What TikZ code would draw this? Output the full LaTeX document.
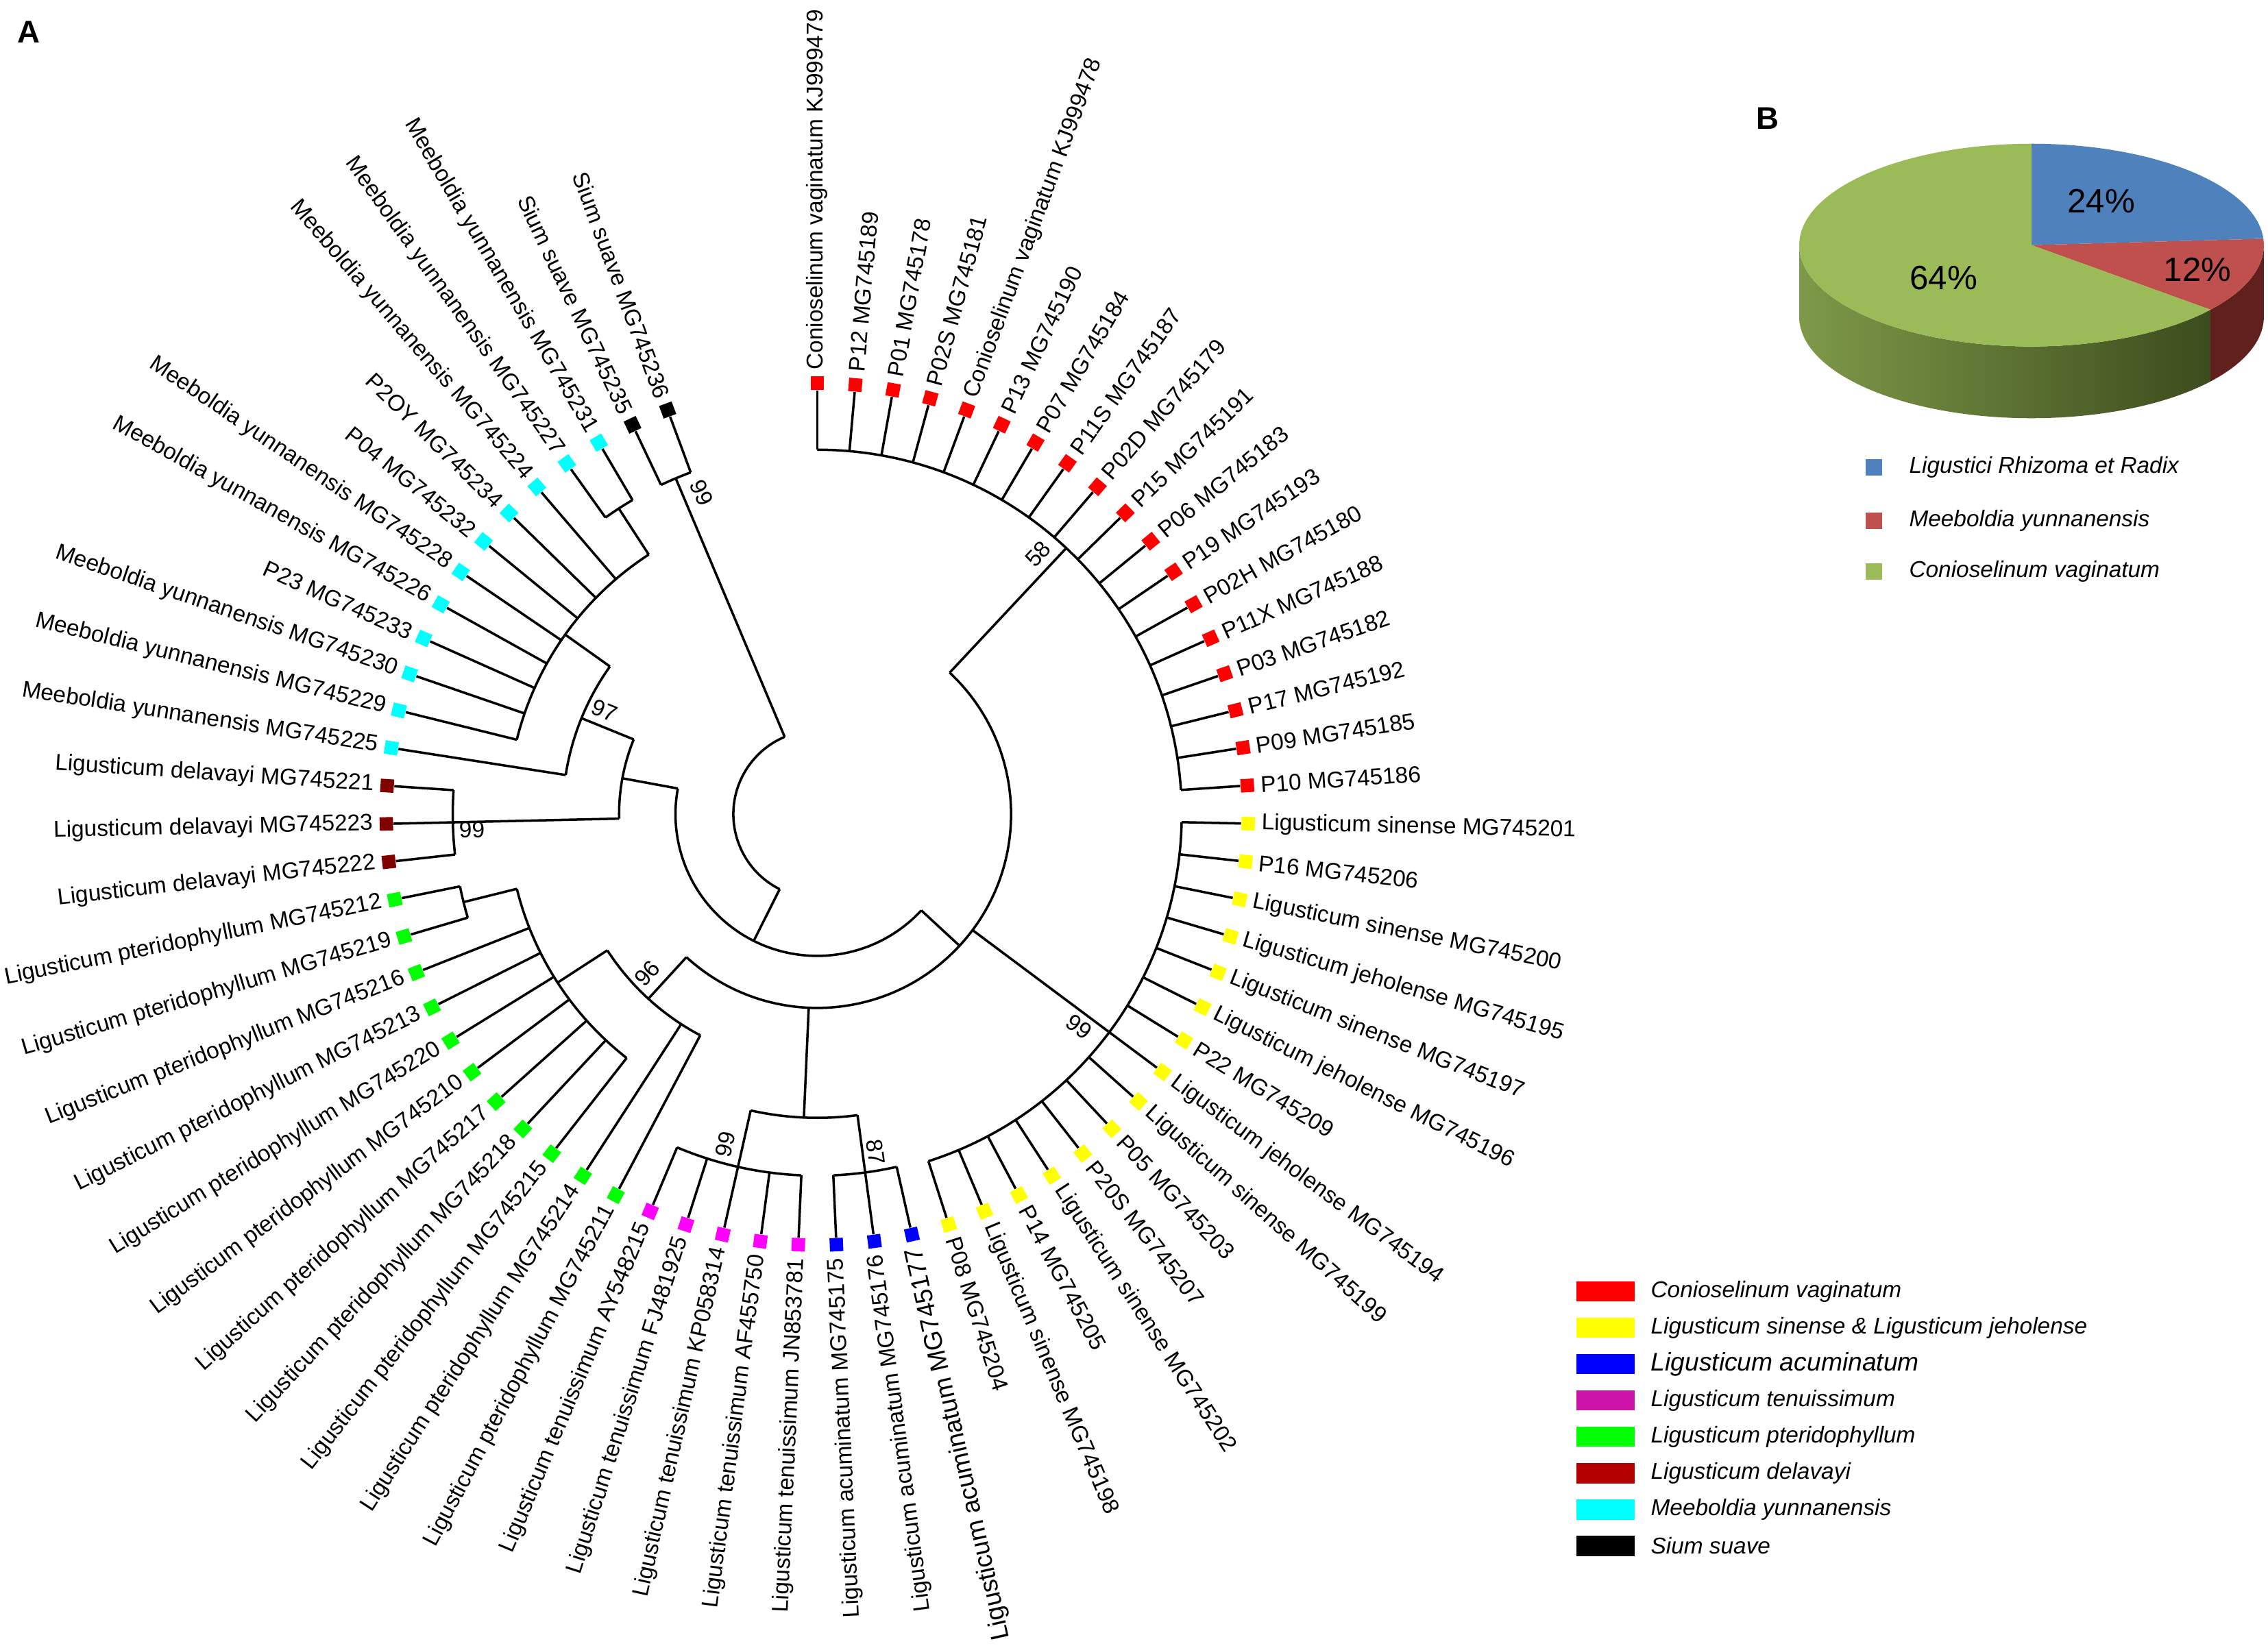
\documentclass[tikz,border=0pt]{standalone}
\usepackage{fontspec}
\setmainfont{Liberation Sans}

\definecolor{cvred}{RGB}{255,0,0}
\definecolor{lsyellow}{RGB}{255,255,0}
\definecolor{lablue}{RGB}{0,0,255}
\definecolor{ltmagenta}{RGB}{255,0,255}
\definecolor{lpgreen}{RGB}{0,255,0}
\definecolor{ldmaroon}{RGB}{128,0,0}
\definecolor{mycyan}{RGB}{0,255,255}
\definecolor{ltkey}{RGB}{204,20,170}
\definecolor{ldkey}{RGB}{180,0,0}
\definecolor{pieblue}{RGB}{79,129,189}
\definecolor{piered}{RGB}{192,80,77}
\definecolor{piegreen}{RGB}{155,187,89}
\definecolor{sideleft}{RGB}{126,153,72}
\definecolor{sideright}{RGB}{60,76,29}
\definecolor{sidered}{RGB}{95,32,30}

% clade: name, first leaf, last leaf, radius, parent radius
\newcommand{\clade}[5]{%
  \pgfmathsetmacro\cladea{90-(#2-1)*5.07}%
  \pgfmathsetmacro\cladeb{90-(#3-1)*5.07}%
  \pgfmathsetmacro\cladem{(\cladea+\cladeb)/2}%
  \draw[branchline] (\cladea:#4) arc[start angle=\cladea, end angle=\cladeb, radius=#4];
  \coordinate (#1) at (\cladem:#4);
  \coordinate (#1-base) at (\cladem:#5);
  \draw[branchline] (#1) -- (#1-base);
}

\begin{document}
\begin{tikzpicture}[x=0.21103mm,y=0.21103mm,
  branchline/.style={line width=1pt},
  tipbox/.style={rectangle,minimum size=1.95mm,inner sep=0pt},
  leaf/.style={font=\fontsize{9.5}{11}\selectfont,inner sep=0pt},
  boot/.style={font=\fontsize{9.5}{11}\selectfont,inner sep=0pt},
  pct/.style={font=\fontsize{14}{16}\selectfont,inner sep=0pt},
  keybox/.style={rectangle,minimum width=8.44mm,minimum height=2.95mm,inner sep=0pt},
  keytext/.style={anchor=west,inner sep=0pt,font=\itshape\fontsize{9.5}{11}\selectfont},
  panel/.style={font=\bfseries\fontsize{13}{15}\selectfont}]
  \useasboundingbox (0,0) rectangle (1568,1138);
  \node[panel] (panelA) at (20,1116) {A};
  \node[panel] (panelB) at (1222,1056) {B};

  % circular tree
  \begin{scope}[shift={(565,575)}]
  \foreach \lab/\col/\rb [count=\i] in {
    {Conioselinum vaginatum KJ999479}/cvred/252, {P12 MG745189}/cvred/252,
    {P01 MG745178}/cvred/252, {P02S MG745181}/cvred/252,
    {Conioselinum vaginatum KJ999478}/cvred/252, {P13 MG745190}/cvred/252,
    {P07 MG745184}/cvred/252, {P11S MG745187}/cvred/252,
    {P02D MG745179}/cvred/252, {P15 MG745191}/cvred/252,
    {P06 MG745183}/cvred/252, {P19 MG745193}/cvred/252,
    {P02H MG745180}/cvred/252, {P11X MG745188}/cvred/252,
    {P03 MG745182}/cvred/252, {P17 MG745192}/cvred/252,
    {P09 MG745185}/cvred/252, {P10 MG745186}/cvred/252,
    {Ligusticum sinense MG745201}/lsyellow/252, {P16 MG745206}/lsyellow/252,
    {Ligusticum sinense MG745200}/lsyellow/252, {Ligusticum jeholense MG745195}/lsyellow/252,
    {Ligusticum sinense MG745197}/lsyellow/252, {Ligusticum jeholense MG745196}/lsyellow/252,
    {P22 MG745209}/lsyellow/252, {Ligusticum jeholense MG745194}/lsyellow/252,
    {Ligusticum sinense MG745199}/lsyellow/252, {P05 MG745203}/lsyellow/252,
    {P20S MG745207}/lsyellow/252, {Ligusticum sinense MG745202}/lsyellow/252,
    {P14 MG745205}/lsyellow/252, {Ligusticum sinense MG745198}/lsyellow/252,
    {P08 MG745204}/lsyellow/252,
    {\fontsize{10.6}{12}\selectfont Ligusticum acuminatum MG745177}/lablue/250,
    {Ligusticum acuminatum MG745176}/lablue/250,
    {Ligusticum acuminatum MG745175}/lablue/250,
    {Ligusticum tenuissimum JN853781}/ltmagenta/250, {Ligusticum tenuissimum AF455750}/ltmagenta/250,
    {Ligusticum tenuissimum KP058314}/ltmagenta/250, {Ligusticum tenuissimum FJ481925}/ltmagenta/250,
    {Ligusticum tenuissimum AY548215}/ltmagenta/250,
    {Ligusticum pteridophyllum MG745211}/lpgreen/173, {Ligusticum pteridophyllum MG745214}/lpgreen/173,
    {Ligusticum pteridophyllum MG745215}/lpgreen/214, {Ligusticum pteridophyllum MG745218}/lpgreen/214,
    {Ligusticum pteridophyllum MG745217}/lpgreen/214, {Ligusticum pteridophyllum MG745210}/lpgreen/214,
    {Ligusticum pteridophyllum MG745220}/lpgreen/214, {Ligusticum pteridophyllum MG745213}/lpgreen/214,
    {Ligusticum pteridophyllum MG745216}/lpgreen/214, {Ligusticum pteridophyllum MG745219}/lpgreen/252,
    {Ligusticum pteridophyllum MG745212}/lpgreen/252,
    {Ligusticum delavayi MG745222}/ldmaroon/252, {Ligusticum delavayi MG745223}/ldmaroon/252,
    {Ligusticum delavayi MG745221}/ldmaroon/252,
    {Meeboldia yunnanensis MG745225}/mycyan/176, {Meeboldia yunnanensis MG745229}/mycyan/214,
    {Meeboldia yunnanensis MG745230}/mycyan/214, {P23 MG745233}/mycyan/214,
    {Meeboldia yunnanensis MG745226}/mycyan/214, {Meeboldia yunnanensis MG745228}/mycyan/214,
    {P04 MG745232}/mycyan/214, {P2OY MG745234}/mycyan/214,
    {Meeboldia yunnanensis MG745224}/mycyan/214, {Meeboldia yunnanensis MG745227}/mycyan/252,
    {Meeboldia yunnanensis MG745231}/mycyan/252,
    {Sium suave MG745235}/black/252, {Sium suave MG745236}/black/252}
  {
    \pgfmathsetmacro\ta{90-(\i-1)*5.07}
    \pgfmathtruncatemacro\rside{\ta>-75}
    \node[tipbox,fill=\col,rotate=\ta] (tip\i) at (\ta:298) {};
    \draw[branchline] (\ta:\rb) -- (tip\i);
    \ifnum\rside=1
      \node[leaf,anchor=west,rotate=\ta] (lab\i) at (\ta:307) {\lab};
    \else
      \node[leaf,anchor=east,rotate=\ta+180] (lab\i) at (\ta:307) {\lab};
    \fi
  }

  % clades
  \clade{cRed}{1}{18}{252}{134}
  \clade{cYel}{19}{33}{252}{134}
  \clade{cAcu}{34}{36}{250}{210}
  \clade{cTen}{37}{41}{250}{210}
  \clade{cTA}{35}{39}{210}{134}
  \clade{cGa}{51}{52}{252}{214}
  \clade{cGb}{44}{51.5}{214}{173}
  \clade{cGc}{42}{47.75}{173}{134}
  \clade{cR}{9.5}{44.875}{134}{98}
  \clade{cDel}{53}{55}{252}{137}
  \clade{cMa}{65}{66}{252}{214}
  \clade{cMb}{57}{65.5}{214}{176}
  \clade{cN}{56}{61.25}{176}{137}
  \clade{cP}{54}{58.625}{137}{98}
  \clade{cQ}{27.1875}{56.3125}{98}{58}
  \clade{cSium}{67}{68}{252}{58}
  \draw[branchline] (-116.6:58) arc[start angle=-116.6, end angle=-247.16, radius=58];

  % bootstrap values
  \node[boot,rotate=-67.2] (bsSium) at (109.8:236) {99};
  \node[boot,rotate=46.9] (bsRed) at (49.7:236) {58};
  \node[boot,rotate=-22.2] (bsN) at (154:163.5) {97};
  \node[boot,rotate=1.3] (bsDel) at (182.6:239) {99};
  \node[boot,rotate=47.5] (bsGc) at (223.1:161) {96};
  \node[boot,rotate=77.3] (bsTen) at (254.5:237) {99};
  \node[boot,rotate=-82.4] (bsAcu) at (-80.2:237) {87};
  \node[boot,rotate=-36.8] (bsYel) at (-39.1:233.4) {99};
  \end{scope}

  % pie chart
  \begin{scope}[shift={(1404.5,968.5)}]
  \shade[left color=sideleft,right color=sideright]
    (180:160.6 and 70.1) arc[start angle=180,end angle=320.4,x radius=160.6,y radius=70.1]
    -- ++(0,-49.6) arc[start angle=320.4,end angle=180,x radius=160.6,y radius=70.1] -- cycle;
  \fill[sidered]
    (320.4:160.6 and 70.1) arc[start angle=320.4,end angle=360,x radius=160.6,y radius=70.1]
    -- ++(0,-49.6) arc[start angle=360,end angle=320.4,x radius=160.6,y radius=70.1] -- cycle;
  \fill[pieblue] (0,0) -- (90:160.6 and 70.1) arc[start angle=90,end angle=3.6,x radius=160.6,y radius=70.1] -- cycle;
  \fill[piered] (0,0) -- (3.6:160.6 and 70.1) arc[start angle=3.6,end angle=-39.6,x radius=160.6,y radius=70.1] -- cycle;
  \fill[piegreen] (0,0) -- (-39.6:160.6 and 70.1) arc[start angle=-39.6,end angle=-270,x radius=160.6,y radius=70.1] -- cycle;
  \node[pct] (pct24) at (48.2,30.2) {24\%};
  \node[pct] (pct12) at (114.7,-16.9) {12\%};
  \node[pct] (pct64) at (-60.8,-22.9) {64\%};
  \end{scope}

  % pie legend
  \foreach \txt/\col/\yy [count=\k] in {
    {Ligustici Rhizoma et Radix}/pieblue/815,
    {Meeboldia yunnanensis}/piered/778,
    {Conioselinum vaginatum}/piegreen/743}
  {
    \node[rectangle,fill=\col,minimum size=2.4mm,inner sep=0pt] (pk\k) at (1295.5,\yy) {};
    \node[keytext] (pkt\k) at (1319.6,\yy) {\txt};
  }

  % species legend
  \foreach \txt/\col [count=\k] in {
    {Conioselinum vaginatum}/cvred,
    {Ligusticum sinense \& Ligusticum jeholense}/lsyellow,
    {\fontsize{10.6}{12}\selectfont Ligusticum acuminatum}/lablue,
    {Ligusticum tenuissimum}/ltkey,
    {Ligusticum pteridophyllum}/lpgreen,
    {Ligusticum delavayi}/ldkey,
    {Meeboldia yunnanensis}/mycyan,
    {Sium suave}/black}
  {
    \pgfmathsetmacro\yy{245-(\k-1)*25.14}
    \node[keybox,fill=\col] (key\k) at (1110,\yy) {};
    \node[keytext] (keyt\k) at (1141,\yy) {\txt};
  }
\end{tikzpicture}
\end{document}
